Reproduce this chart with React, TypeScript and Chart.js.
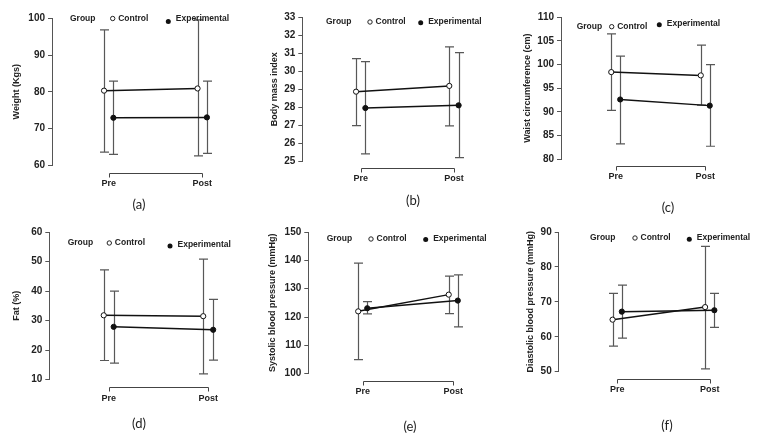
import React, { useEffect, useRef } from 'react';
import { Chart, registerables } from 'chart.js';

Chart.register(...registerables);

const categories = ['Pre', 'Post'];
const groups = ['Control', 'Experimental'];
const groupTitle = 'Group';

// (a) Weight (Kgs)
const weightControl = [80.3, 80.9];
const weightControlLow = [63.5, 62.5];
const weightControlHigh = [96.9, 99.6];
const weightExperimental = [72.9, 73.0];
const weightExperimentalLow = [62.9, 63.2];
const weightExperimentalHigh = [82.9, 82.9];
const weightAxis = [60, 100];
const weightStep = 10;

// (b) Body mass index
const bmiControl = [28.86, 29.18];
const bmiControlLow = [26.97, 26.95];
const bmiControlHigh = [30.7, 31.35];
const bmiExperimental = [27.95, 28.1];
const bmiExperimentalLow = [25.4, 25.19];
const bmiExperimentalHigh = [30.53, 31.03];
const bmiAxis = [25, 33];
const bmiStep = 1;

// (c) Waist circumference (cm)
const waistControl = [98.4, 97.7];
const waistControlLow = [90.3, 91.4];
const waistControlHigh = [106.5, 104.1];
const waistExperimental = [92.6, 91.3];
const waistExperimentalLow = [83.2, 82.7];
const waistExperimentalHigh = [101.8, 100.0];
const waistAxis = [80, 110];
const waistStep = 5;

// (d) Fat (%)
const fatControl = [31.8, 31.5];
const fatControlLow = [16.5, 12.0];
const fatControlHigh = [47.2, 50.8];
const fatExperimental = [27.9, 26.9];
const fatExperimentalLow = [15.6, 16.6];
const fatExperimentalHigh = [40.0, 37.2];
const fatAxis = [10, 60];
const fatStep = 10;

// (e) Systolic blood pressure (mmHg)
const sbpControl = [122.0, 127.9];
const sbpControlLow = [105.0, 121.2];
const sbpControlHigh = [139.0, 134.4];
const sbpExperimental = [123.1, 125.8];
const sbpExperimentalLow = [121.1, 116.5];
const sbpExperimentalHigh = [125.4, 134.9];
const sbpAxis = [100, 150];
const sbpStep = 10;

// (f) Diastolic blood pressure (mmHg)
const dbpControl = [64.9, 68.5];
const dbpControlLow = [57.3, 50.8];
const dbpControlHigh = [72.4, 85.9];
const dbpExperimental = [67.2, 67.6];
const dbpExperimentalLow = [59.6, 62.7];
const dbpExperimentalHigh = [74.8, 72.4];
const dbpAxis = [50, 90];
const dbpStep = 10;

const FONT = '"Liberation Sans", Arial, sans-serif';
const PANEL_W = 254;
const PANEL_H = 223;
const DODGE = 0.05;

type Layout = {
  left: number; top: number; axisX: number; topY: number; bottomY: number;
  preX: number; postX: number; titleX: number; bracketDy: number; labelCY: number;
  capX: number; capY: number;
  lg: { dy: number; group: number; ctrl: number; exp: number; expDy: number; expTextDy: number };
};

type Panel = {
  title: string; caption: string;
  control: number[]; controlLow: number[]; controlHigh: number[];
  experimental: number[]; experimentalLow: number[]; experimentalHigh: number[];
  axis: number[]; step: number; layout: Layout;
};

const panels: Panel[] = [
  {
    title: 'Weight (Kgs)', caption: '(a)',
    control: weightControl, controlLow: weightControlLow, controlHigh: weightControlHigh,
    experimental: weightExperimental, experimentalLow: weightExperimentalLow, experimentalHigh: weightExperimentalHigh,
    axis: weightAxis, step: weightStep,
    layout: { left: 0, top: 0, axisX: 52, topY: 18.5, bottomY: 165, preX: 109, postX: 203, titleX: 17, bracketDy: 7.5, labelCY: 184, capX: 139, capY: 204,
      lg: { dy: 0, group: 18, ctrl: 60.7, exp: 116.3, expDy: 3, expTextDy: 0 } },
  },
  {
    title: 'Body mass index', caption: '(b)',
    control: bmiControl, controlLow: bmiControlLow, controlHigh: bmiControlHigh,
    experimental: bmiExperimental, experimentalLow: bmiExperimentalLow, experimentalHigh: bmiExperimentalHigh,
    axis: bmiAxis, step: bmiStep,
    layout: { left: 254, top: 0, axisX: 302.3, topY: 17.3, bottomY: 161, preX: 361, postX: 454.7, titleX: 275, bracketDy: 7, labelCY: 179, capX: 413, capY: 200,
      lg: { dy: 4.7, group: 23.7, ctrl: 67.7, exp: 118.4, expDy: 5.4, expTextDy: 4.7 } },
  },
  {
    title: 'Waist circumference (cm)', caption: '(c)',
    control: waistControl, controlLow: waistControlLow, controlHigh: waistControlHigh,
    experimental: waistExperimental, experimentalLow: waistExperimentalLow, experimentalHigh: waistExperimentalHigh,
    axis: waistAxis, step: waistStep,
    layout: { left: 508, top: 0, axisX: 561, topY: 17.3, bottomY: 159, preX: 616, postX: 706, titleX: 528, bracketDy: 7, labelCY: 177, capX: 668, capY: 207,
      lg: { dy: 9.4, group: 15.7, ctrl: 50.7, exp: 98.3, expDy: 7.4, expTextDy: 6.7 } },
  },
  {
    title: 'Fat (%)', caption: '(d)',
    control: fatControl, controlLow: fatControlLow, controlHigh: fatControlHigh,
    experimental: fatExperimental, experimentalLow: fatExperimentalLow, experimentalHigh: fatExperimentalHigh,
    axis: fatAxis, step: fatStep,
    layout: { left: 0, top: 223, axisX: 49.3, topY: 227.7, bottomY: 379.7, preX: 109, postX: 209, titleX: 17, bracketDy: 7.3, labelCY: 399, capX: 139, capY: 423,
      lg: { dy: 11, group: 18.4, ctrl: 60, exp: 120.7, expDy: 14, expTextDy: 12.3 } },
  },
  {
    title: 'Systolic blood pressure (mmHg)', caption: '(e)',
    control: sbpControl, controlLow: sbpControlLow, controlHigh: sbpControlHigh,
    experimental: sbpExperimental, experimentalLow: sbpExperimentalLow, experimentalHigh: sbpExperimentalHigh,
    axis: sbpAxis, step: sbpStep,
    layout: { left: 254, top: 223, axisX: 308.3, topY: 231, bottomY: 373.7, preX: 363, postX: 454, titleX: 273, bracketDy: 7.3, labelCY: 392, capX: 410, capY: 426,
      lg: { dy: 7, group: 18.4, ctrl: 62.7, exp: 117.4, expDy: 7.5, expTextDy: 7 } },
  },
  {
    title: 'Diastolic blood pressure (mmHg)', caption: '(f)',
    control: dbpControl, controlLow: dbpControlLow, controlHigh: dbpControlHigh,
    experimental: dbpExperimental, experimentalLow: dbpExperimentalLow, experimentalHigh: dbpExperimentalHigh,
    axis: dbpAxis, step: dbpStep,
    layout: { left: 508, top: 223, axisX: 558.7, topY: 229, bottomY: 371.7, preX: 617.5, postX: 710.5, titleX: 531, bracketDy: 7.3, labelCY: 390, capX: 667, capY: 425,
      lg: { dy: 6, group: 31.3, ctrl: 76.3, exp: 130.6, expDy: 7.3, expTextDy: 6 } },
  },
];

function PanelChart({ p }: { p: Panel }) {
  const ref = useRef<HTMLCanvasElement>(null);
  useEffect(() => {
    if (!ref.current) return;
    const L = p.layout;
    const span = L.postX - L.preX;
    const titleHalf = 9 * 1.2 / 2;
    const padL = L.titleX - titleHalf - L.left;
    const yWidth = L.axisX - L.left - padL;
    const xH = 30;
    const padTop = L.topY - L.top;
    const padBottom = PANEL_H - (L.bottomY - L.top) - xH;
    const padRight = 4;
    const xMin = -(L.preX - L.axisX) / span;
    const xMax = (L.left + PANEL_W - padRight - L.preX) / span;
    const labelPad = L.labelCY - L.bottomY - titleHalf;

    const extras = {
      id: 'extras',
      beforeDatasetsDraw(chart: any) {
        const ctx = chart.ctx;
        const xs = chart.scales.x;
        const ys = chart.scales.y;
        ctx.save();
        ctx.strokeStyle = '#585858';
        ctx.lineWidth = 1.2;
        chart.data.datasets.forEach((ds: any) => {
          ds.data.forEach((pt: any, j: number) => {
            const x = Math.round(xs.getPixelForValue(pt.x)) + 0.5;
            const y1 = ys.getPixelForValue(ds.errLow[j]);
            const y2 = ys.getPixelForValue(ds.errHigh[j]);
            ctx.beginPath();
            ctx.moveTo(x, y1); ctx.lineTo(x, y2);
            ctx.moveTo(x - 4.5, y1); ctx.lineTo(x + 4.5, y1);
            ctx.moveTo(x - 4.5, y2); ctx.lineTo(x + 4.5, y2);
            ctx.stroke();
          });
        });
        ctx.restore();
      },
      afterDraw(chart: any) {
        const ctx = chart.ctx;
        const a = chart.chartArea;
        const xs = chart.scales.x;
        // bracket axis
        const x0 = Math.round(xs.getPixelForValue(0)) + 0.5;
        const x1 = Math.round(xs.getPixelForValue(categories.length - 1)) + 0.5;
        const yb = Math.round(a.bottom + L.bracketDy) + 0.5;
        ctx.save();
        ctx.strokeStyle = '#444';
        ctx.lineWidth = 1;
        ctx.beginPath();
        ctx.moveTo(x0, yb + 4); ctx.lineTo(x0, yb); ctx.lineTo(x1, yb); ctx.lineTo(x1, yb + 4);
        ctx.stroke();
        // legend
        const lg = L.lg;
        ctx.font = 'bold 8.5px ' + FONT;
        ctx.textBaseline = 'middle';
        ctx.textAlign = 'left';
        ctx.fillStyle = '#222';
        ctx.fillText(groupTitle, a.left + lg.group, a.top + lg.dy);
        ctx.beginPath();
        ctx.arc(a.left + lg.ctrl, a.top + lg.dy, 2.2, 0, Math.PI * 2);
        ctx.fillStyle = '#fff';
        ctx.fill();
        ctx.strokeStyle = '#222';
        ctx.stroke();
        ctx.fillStyle = '#222';
        ctx.fillText(groups[0], a.left + lg.ctrl + 5.5, a.top + lg.dy);
        ctx.beginPath();
        ctx.arc(a.left + lg.exp, a.top + lg.expDy, 2.5, 0, Math.PI * 2);
        ctx.fillStyle = '#111';
        ctx.fill();
        ctx.fillStyle = '#222';
        ctx.fillText(groups[1], a.left + lg.exp + 7.5, a.top + lg.expTextDy);
        ctx.restore();
      },
    };

    const mk = (label: string, vals: number[], lo: number[], hi: number[], sign: number, filled: boolean) => ({
      label,
      data: categories.map((_, i) => ({ x: i + sign * DODGE, y: vals[i] })),
      errLow: lo,
      errHigh: hi,
      borderColor: '#111',
      borderWidth: 1.5,
      pointRadius: 2.6,
      pointBorderWidth: 1,
      pointBackgroundColor: filled ? '#111' : '#fff',
      pointBorderColor: '#111',
      showLine: true,
      fill: false,
      tension: 0,
    });

    const chart = new Chart(ref.current, {
      type: 'line',
      data: {
        datasets: [
          mk(groups[0], p.control, p.controlLow, p.controlHigh, -1, false),
          mk(groups[1], p.experimental, p.experimentalLow, p.experimentalHigh, 1, true),
        ] as any,
      },
      options: {
        responsive: false,
        animation: false,
        devicePixelRatio: 1,
        layout: { padding: { left: padL, top: padTop, bottom: padBottom, right: padRight } },
        plugins: { legend: { display: false }, tooltip: { enabled: false } },
        scales: {
          x: {
            type: 'linear',
            min: xMin,
            max: xMax,
            afterBuildTicks: (s: any) => { s.ticks = categories.map((_, i) => ({ value: i })); },
            afterFit: (s: any) => { s.height = xH; },
            grid: { display: false, drawTicks: false },
            border: { display: false },
            ticks: {
              autoSkip: false,
              maxRotation: 0,
              padding: labelPad,
              color: '#222',
              font: { family: FONT, size: 9, weight: 'bold' },
              callback: (_v: any, i: number) => categories[i],
            },
          },
          y: {
            type: 'linear',
            min: p.axis[0],
            max: p.axis[1],
            afterFit: (s: any) => { s.width = yWidth; },
            grid: { drawOnChartArea: false, drawTicks: true, tickLength: 4, color: '#555' },
            border: { display: true, color: '#555', width: 1 },
            ticks: {
              stepSize: p.step,
              padding: 3,
              color: '#222',
              font: { family: FONT, size: 10, weight: 'bold' },
            },
            title: {
              display: true,
              text: p.title,
              color: '#222',
              padding: 0,
              font: { family: FONT, size: 9, weight: 'bold' },
            },
          },
        },
      } as any,
      plugins: [extras],
    });
    return () => chart.destroy();
  }, [p]);

  return (
    <canvas
      ref={ref}
      width={PANEL_W}
      height={PANEL_H}
      style={{ position: 'absolute', left: p.layout.left, top: p.layout.top, width: PANEL_W, height: PANEL_H }}
    />
  );
}

export default function App() {
  return (
    <div style={{ position: 'absolute', left: 0, top: 0, width: 762, height: 446, background: '#fff', overflow: 'hidden' }}>
      {panels.map((p) => (
        <PanelChart key={p.caption} p={p} />
      ))}
      {panels.map((p) => (
        <div
          key={'c' + p.caption}
          style={{
            position: 'absolute',
            left: p.layout.capX - 20,
            top: p.layout.capY - 9,
            width: 40,
            height: 18,
            lineHeight: '18px',
            textAlign: 'center',
            fontFamily: 'Lato, "Open Sans", sans-serif',
            fontSize: 13,
            color: '#222',
          }}
        >
          {p.caption}
        </div>
      ))}
    </div>
  );
}
